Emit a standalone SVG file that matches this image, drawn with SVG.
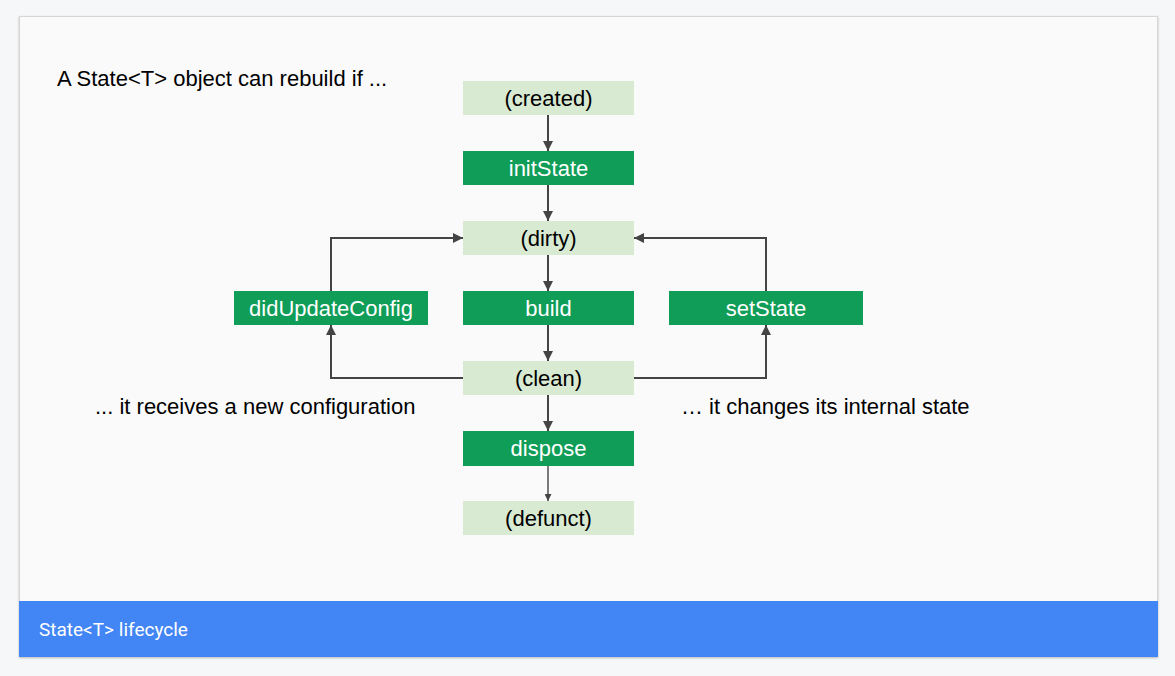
<svg xmlns="http://www.w3.org/2000/svg" width="1175" height="676" viewBox="0 0 1175 676">
<defs>
<marker id="ah" viewBox="0 0 10 10" refX="10" refY="5" markerWidth="5" markerHeight="5" orient="auto" markerUnits="strokeWidth">
<path d="M0,0 L10,5 L0,10 z" fill="#444"/>
</marker>
<filter id="sh" x="-5%" y="-5%" width="110%" height="115%">
<feDropShadow dx="0" dy="1" stdDeviation="1.2" flood-color="#000" flood-opacity="0.25"/>
</filter>
<style>
.lt{fill:#d9ead3}
.dk{fill:#0f9d58}
.t{font-family:"Liberation Sans",Arial,sans-serif;font-size:22px;text-anchor:middle}
.tb{fill:#000}
.tw{fill:#fff}
.lab{font-family:"Liberation Sans",Arial,sans-serif;font-size:22px;fill:#000}
.c{fill:none;stroke:#444;stroke-width:2;marker-end:url(#ah)}
</style>
</defs>
<rect width="1175" height="676" fill="#f6f7f9"/>
<rect x="19.5" y="16.5" width="1138" height="640" fill="#fafafa" stroke="#d6d6d6" filter="url(#sh)"/>
<rect x="19" y="601" width="1139" height="56" fill="#4285f4"/>
<text x="39" y="636" font-family="Roboto,'Liberation Sans',sans-serif" font-size="19" fill="#fff">State&lt;T&gt; lifecycle</text>

<text class="lab" x="57" y="86">A State&lt;T&gt; object can rebuild if ...</text>
<text class="lab" x="95" y="414">... it receives a new configuration</text>
<text class="lab" x="681" y="414">… it changes its internal state</text>

<g id="connectors">
<path class="c" d="M548,115 V151"/>
<path class="c" d="M548,185 V221"/>
<path class="c" d="M548,255 V291"/>
<path class="c" d="M548,325 V361"/>
<path class="c" d="M548,395 V431"/>
<path class="c" d="M548,466 V501" style="stroke-width:1.4"/>
<path class="c" d="M331,291 V238 H463"/>
<path class="c" d="M463,378 H331 V325"/>
<path class="c" d="M634,378 H766 V325"/>
<path class="c" d="M766,291 V238 H634"/>
</g>

<g id="created"><rect class="lt" x="463" y="81" width="171" height="34"/><text class="t tb" x="548.5" y="106">(created)</text></g>
<g id="initState"><rect class="dk" x="463" y="151" width="171" height="34"/><text class="t tw" x="548.5" y="176">initState</text></g>
<g id="dirty"><rect class="lt" x="463" y="221" width="171" height="34"/><text class="t tb" x="548.5" y="246">(dirty)</text></g>
<g id="build"><rect class="dk" x="463" y="291" width="171" height="34"/><text class="t tw" x="548.5" y="316">build</text></g>
<g id="clean"><rect class="lt" x="463" y="361" width="171" height="34"/><text class="t tb" x="548.5" y="386">(clean)</text></g>
<g id="dispose"><rect class="dk" x="463" y="431" width="171" height="35"/><text class="t tw" x="548.5" y="456">dispose</text></g>
<g id="defunct"><rect class="lt" x="463" y="501" width="171" height="34"/><text class="t tb" x="548.5" y="526">(defunct)</text></g>
<g id="didUpdateConfig"><rect class="dk" x="234" y="291" width="194" height="34"/><text class="t tw" x="331" y="316">didUpdateConfig</text></g>
<g id="setState"><rect class="dk" x="669" y="291" width="194" height="34"/><text class="t tw" x="766" y="316">setState</text></g>
</svg>
